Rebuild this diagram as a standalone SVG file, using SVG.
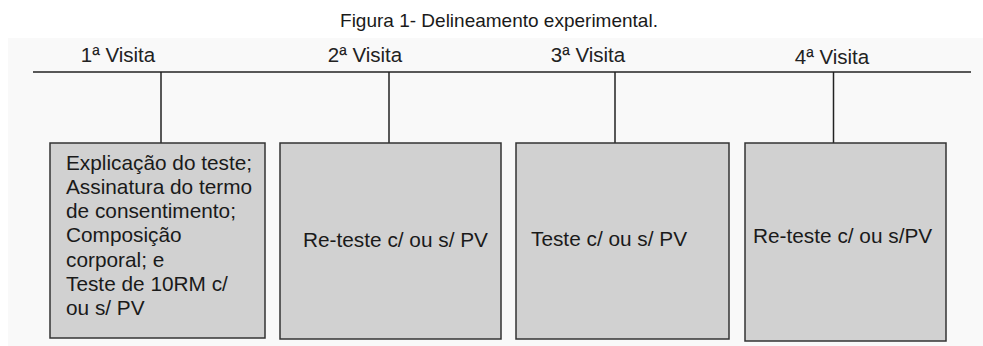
<svg xmlns="http://www.w3.org/2000/svg" width="983" height="346" viewBox="0 0 983 346">
  <defs>
    <style>
      text { font-family: "Liberation Sans", Arial, sans-serif; fill: #1a1a1a; }
      .title { font-size: 19px; text-anchor: middle; }
      .visit { font-size: 20.5px; text-anchor: middle; fill: #222; }
      .label { font-size: 20.8px; }
      .box { fill: #d1d1d1; stroke: #333; stroke-width: 1.5; }
      .inner { fill: none; stroke: #dadada; stroke-width: 4; }
      .line { stroke: #222; stroke-width: 1.5; fill: none; }
    </style>
  </defs>
  <rect x="0" y="0" width="983" height="346" fill="#ffffff"/>
  <rect x="8" y="38" width="975" height="308" fill="#f9f9f9"/>
  <text class="title" x="499" y="27">Figura 1- Delineamento experimental.</text>

  <g id="connectors">
    <line class="line" x1="33" y1="72" x2="971" y2="72"/>
    <line class="line" x1="161" y1="72" x2="161" y2="143"/>
    <line class="line" x1="389" y1="72" x2="389" y2="143"/>
    <line class="line" x1="615" y1="72" x2="615" y2="143"/>
    <line class="line" x1="833.5" y1="72" x2="833.5" y2="143"/>
  </g>

  <g id="visit1">
    <text class="visit" x="118" y="62">1ª Visita</text>
    <rect class="box" x="50" y="143" width="215" height="195"/>
    <text class="label" x="66">
      <tspan x="66" y="170">Explicação do teste;</tspan>
      <tspan x="66" y="194">Assinatura do termo</tspan>
      <tspan x="66" y="218">de consentimento;</tspan>
      <tspan x="66" y="242">Composição</tspan>
      <tspan x="66" y="267">corporal; e</tspan>
      <tspan x="66" y="291">Teste de 10RM c/</tspan>
      <tspan x="66" y="315">ou s/ PV</tspan>
    </text>
  </g>

  <g id="visit2">
    <text class="visit" x="365" y="62">2ª Visita</text>
    <rect class="box" x="280" y="143" width="221" height="196"/>
    <text class="label" x="303" y="247">Re-teste c/ ou s/ PV</text>
  </g>

  <g id="visit3">
    <text class="visit" x="588" y="62">3ª Visita</text>
    <rect class="box" x="516" y="143" width="213" height="196"/>
    <text class="label" x="531" y="246">Teste c/ ou s/ PV</text>
  </g>

  <g id="visit4">
    <text class="visit" x="832" y="64">4ª Visita</text>
    <rect class="box" x="745" y="143" width="201" height="198"/>
    <text class="label" x="753" y="243">Re-teste c/ ou s/PV</text>
  </g>
</svg>
